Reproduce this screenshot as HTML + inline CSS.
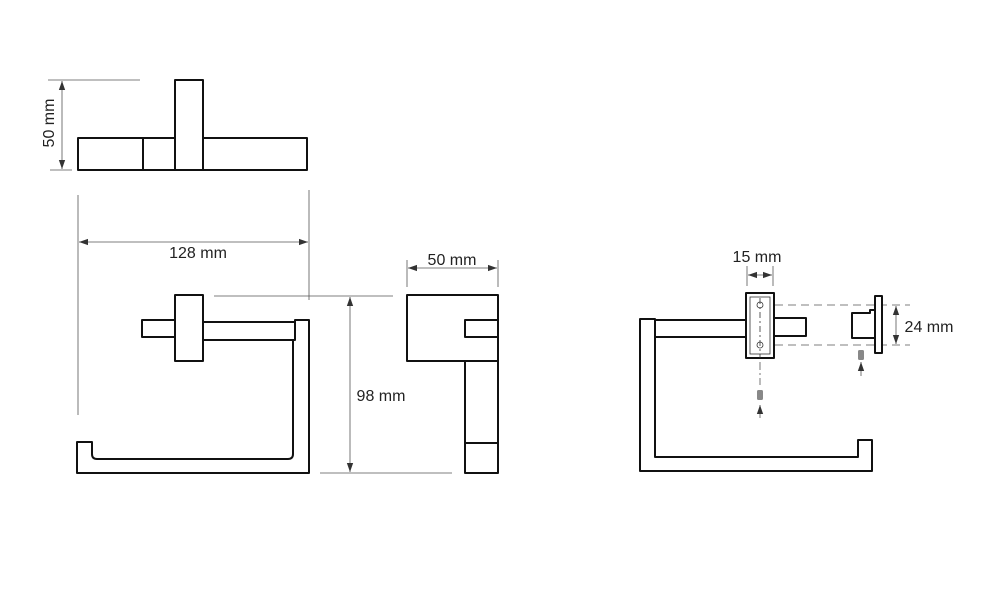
<!DOCTYPE html>
<html><head><meta charset="utf-8"><style>
body{margin:0;background:#fff;}
svg{display:block;}
text{font-family:"Liberation Sans","DejaVu Sans",sans-serif;font-size:16px;fill:#222;}
</style></head><body>
<svg width="1000" height="605" viewBox="0 0 1000 605" xmlns="http://www.w3.org/2000/svg">
<defs>
<marker id="a" viewBox="0 0 10 10" refX="10" refY="5" markerWidth="9" markerHeight="9" markerUnits="userSpaceOnUse" orient="auto-start-reverse"><path d="M0,1.5 L10,5 L0,8.5 z" fill="#333"/></marker>
</defs>
<g stroke="#555" stroke-width="0.8" fill="none">
<line x1="48" y1="80" x2="140" y2="80"/>
<line x1="50" y1="170" x2="72" y2="170"/>
<line x1="62" y1="81" x2="62" y2="169" marker-start="url(#a)" marker-end="url(#a)"/>
<line x1="78" y1="195" x2="78" y2="415"/>
<line x1="309" y1="190" x2="309" y2="300"/>
<line x1="79" y1="242" x2="308" y2="242" marker-start="url(#a)" marker-end="url(#a)"/>
<line x1="214" y1="296" x2="393" y2="296"/>
<line x1="320" y1="473" x2="452" y2="473"/>
<line x1="350" y1="297" x2="350" y2="472" marker-start="url(#a)" marker-end="url(#a)"/>
<line x1="407" y1="260" x2="407" y2="287"/>
<line x1="498" y1="260" x2="498" y2="287"/>
<line x1="408" y1="268" x2="497" y2="268" marker-start="url(#a)" marker-end="url(#a)"/>
<line x1="747" y1="266" x2="747" y2="286"/>
<line x1="773" y1="266" x2="773" y2="286"/>
<line x1="748" y1="275" x2="772" y2="275" marker-start="url(#a)" marker-end="url(#a)"/>
<line x1="896" y1="306" x2="896" y2="344" marker-start="url(#a)" marker-end="url(#a)"/>
<line x1="775" y1="305" x2="910" y2="305" stroke-dasharray="8,5"/>
<line x1="775" y1="345" x2="910" y2="345" stroke-dasharray="8,5"/>
<line x1="760" y1="298" x2="760" y2="385" stroke-dasharray="8,3,2,3"/>
<line x1="760" y1="418" x2="760" y2="405" marker-end="url(#a)"/>
<line x1="861" y1="376" x2="861" y2="362" marker-end="url(#a)"/>
</g>
<g stroke="#111" stroke-width="2" fill="none" stroke-linejoin="round">
<rect x="78" y="138" width="229" height="32"/>
<line x1="143" y1="138" x2="143" y2="170"/>
<line x1="203" y1="138" x2="203" y2="170"/>
<rect x="175" y="80" width="28" height="90" fill="#fff"/>
<rect x="142" y="320" width="33" height="17"/>
<rect x="203" y="322" width="92" height="18"/>
<rect x="175" y="295" width="28" height="66" fill="#fff"/>
<path d="M295,340 L295,320 L309,320 L309,473 L77,473 L77,442 L92,442 L92,454 Q92,459 97,459 L288,459 Q293,459 293,454 L293,340"/>
<rect x="407" y="295" width="91" height="66"/>
<rect x="465" y="320" width="33" height="17"/>
<rect x="465" y="361" width="33" height="112"/>
<line x1="465" y1="443" x2="498" y2="443"/>
<path d="M655,319 L640,319 L640,471 L872,471 L872,440 L858,440 L858,457 L655,457 Z"/>
<rect x="655" y="320" width="91" height="17"/>
<rect x="774" y="318" width="32" height="18"/>
<rect x="746" y="293" width="28" height="65" fill="#fff"/>
<path d="M875,310 L870,310 L870,313 L852,313 L852,338 L875,338"/>
<rect x="875" y="296" width="7" height="57" fill="#fff"/>
</g>
<g stroke="#333" stroke-width="0.8" fill="none">
<rect x="750" y="297" width="20" height="57"/>
<circle cx="760" cy="305" r="3"/>
<circle cx="760" cy="345" r="3"/>
<line x1="760" y1="298" x2="760" y2="358" stroke-dasharray="6,3,2,3"/>
</g>
<rect x="757" y="390" width="6" height="10" rx="1.5" fill="#888"/>
<rect x="858" y="350" width="6" height="10" rx="1.5" fill="#888"/>
<text x="0" y="0" transform="translate(54,123) rotate(-90)" text-anchor="middle">50 mm</text>
<text x="198" y="258" text-anchor="middle">128 mm</text>
<text x="452" y="265" text-anchor="middle">50 mm</text>
<text x="381" y="401" text-anchor="middle">98 mm</text>
<text x="757" y="262" text-anchor="middle">15 mm</text>
<text x="929" y="332" text-anchor="middle">24 mm</text>
</svg>
</body></html>
